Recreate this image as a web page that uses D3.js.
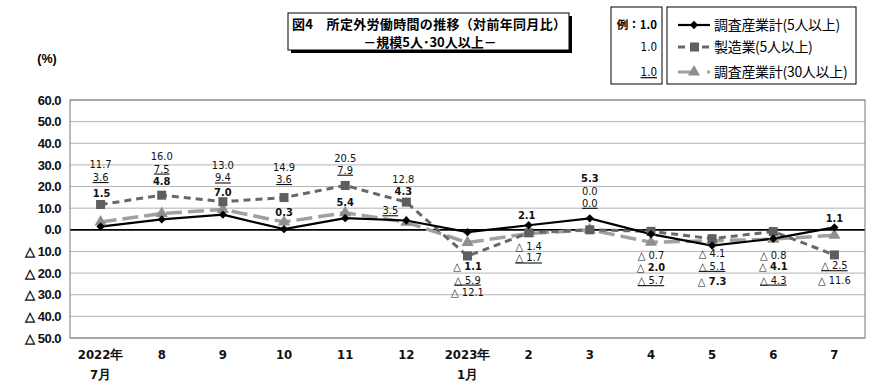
<!DOCTYPE html>
<html><head><meta charset="utf-8">
<script src="https://cdn.jsdelivr.net/npm/d3@7"></script>
<style>
body{margin:0;background:#fff;}
svg{display:block;}
.cjk{font-family:"Noto Sans CJK JP","Noto Sans",sans-serif;}
.num{font-family:"Liberation Sans Narrow","DejaVu Sans Condensed","Liberation Sans",sans-serif;}
</style>
</head><body>
<svg id="c" width="890" height="388"></svg>
<script>
// ---- data ----
const categories = ["2022年|7月","8","9","10","11","12","2023年|1月","2","3","4","5","6","7"];
const totalAll5 = [1.5, 4.8, 7.0, 0.3, 5.4, 4.3, -1.1, 2.1, 5.3, -2.0, -7.3, -4.1, 1.1];
const manuf5    = [11.7, 16.0, 13.0, 14.9, 20.5, 12.8, -12.1, -1.4, 0.0, -0.7, -4.1, -0.8, -11.6];
const totalAll30= [3.6, 7.5, 9.4, 3.6, 7.9, 3.5, -5.9, -1.7, 0.0, -5.7, -5.1, -4.3, -2.5];
const yTicks = [60,50,40,30,20,10,0,-10,-20,-30,-40,-50];
const seriesNames = ["調査産業計(5人以上)","製造業(5人以上)","調査産業計(30人以上)"];

// label offsets (layout only): [dx, dy] relative to point
const offTotal = [[1,-34],[0,-38],[0,-23],[0,-17],[0,-16],[-3,-29.5],[0,34],[-2,-10],[0,-40],[0,33],[0,35],[0,27.5],[0,-9]];
const offManuf = [[0,-40],[0,-39],[0,-37],[0,-31],[0,-27],[-3,-23],[0,36],[0,13],[0,-39],[0,24],[0,14],[0,23],[0,25]];
const off30    = [[0,-45],[0,-45],[0,-32],[0,-43],[0,-43],[-16,-12],[0,37],[0,24],[0,-27],[0,38],[0,25],[0,40.5],[0,30]];

const svg = d3.select("#c");
const L=70, R=865, T=100, B=338;
const x = d3.scaleBand().domain(categories).range([L,R]);
const y = d3.scaleLinear().domain([-50,60]).range([B,T]);
const cx = c => x(c) + x.bandwidth()/2;
const fmt = v => v < 0 ? "△ " + Math.abs(v).toFixed(1) : v.toFixed(1);

// grid
svg.append("g").selectAll("line").data(yTicks).join("line")
  .attr("x1",L).attr("x2",R).attr("y1",d=>y(d)).attr("y2",d=>y(d))
  .attr("stroke",d=>d===0?"#000":"#b4b4b4").attr("stroke-width",d=>d===0?1.8:1);
svg.append("rect").attr("x",L).attr("y",T).attr("width",R-L).attr("height",B-T)
  .attr("fill","none").attr("stroke","#777").attr("stroke-width",1);

// y tick labels
svg.append("g").selectAll("text").data(yTicks).join("text")
  .attr("x",61).attr("y",d=>y(d)).attr("dy","0.36em").attr("text-anchor","end")
  .attr("font-family","Liberation Sans, Arial, sans-serif").attr("font-weight","bold")
  .attr("font-size",13).attr("letter-spacing",-0.5).attr("fill","#111")
  .text(d=> d<0 ? "△ "+Math.abs(d).toFixed(1) : d.toFixed(1));
svg.append("text").attr("x",47).attr("y",58).attr("dy","0.36em").attr("text-anchor","middle")
  .attr("font-family","Liberation Sans, Arial, sans-serif").attr("font-weight","bold").attr("font-size",12.5)
  .text("(%)");

// x labels
const xl = svg.append("g").selectAll("text").data(categories).join("text")
  .attr("class","num").attr("text-anchor","middle").attr("font-size",13).attr("font-weight","bold")
  .attr("fill","#111");
xl.each(function(d){
  const parts = d.split("|");
  const t = d3.select(this);
  parts.forEach((p,i)=>{
    t.append("tspan").attr("x",cx(d)).attr("y",i===0?359:379).text(p);
  });
});

// lines
const line = d3.line().x((d,i)=>cx(categories[i])).y(d=>y(d));
svg.append("path").datum(totalAll30).attr("d",line).attr("fill","none")
  .attr("stroke","#a0a0a0").attr("stroke-width",3.5).attr("stroke-dasharray","16,6");
svg.append("path").datum(manuf5).attr("d",line).attr("fill","none")
  .attr("stroke","#676767").attr("stroke-width",3).attr("stroke-dasharray","7,5");
svg.append("path").datum(totalAll5).attr("d",line).attr("fill","none")
  .attr("stroke","#000").attr("stroke-width",2.2);

// markers
svg.append("g").selectAll("path").data(totalAll30).join("path")
  .attr("d",d3.symbol(d3.symbolTriangle,64))
  .attr("transform",(d,i)=>`translate(${cx(categories[i])},${y(d)})`).attr("fill","#8f8f8f");
svg.append("g").selectAll("rect").data(manuf5).join("rect")
  .attr("x",(d,i)=>cx(categories[i])-4.5).attr("y",d=>y(d)-4.5).attr("width",9).attr("height",9)
  .attr("fill","#5e5e5e");
svg.append("g").selectAll("path").data(totalAll5).join("path")
  .attr("d",d3.symbol(d3.symbolDiamond2,44))
  .attr("transform",(d,i)=>`translate(${cx(categories[i])},${y(d)})`).attr("fill","#000");

// data labels
function labels(data, offs, weight, underline){
  svg.append("g").selectAll("text").data(data).join("text")
    .attr("class","num").attr("text-anchor","middle").attr("font-size",11)
    .attr("font-weight",weight).attr("fill","#111")
    .style("text-decoration",underline?"underline":"none")
    .attr("x",(d,i)=>cx(categories[i])+offs[i][0])
    .attr("y",(d,i)=>y(d)+offs[i][1]).attr("dy","0.36em")
    .text(d=>fmt(d));
}
labels(manuf5, offManuf, "normal", false);
labels(totalAll30, off30, "normal", true);
labels(totalAll5, offTotal, "bold", false);

// title box
const tb = svg.append("g");
tb.append("rect").attr("x",291).attr("y",16).attr("width",281).attr("height",37).attr("fill","#000");
tb.append("rect").attr("x",288).attr("y",13).attr("width",281).attr("height",37).attr("fill","#fff").attr("stroke","#000").attr("stroke-width",1);
tb.append("text").attr("class","cjk").attr("x",292).attr("y",24).attr("dy","0.36em")
  .attr("font-size",13).attr("font-weight","bold").attr("textLength",274).attr("lengthAdjust","spacing")
  .text("図4　所定外労働時間の推移（対前年同月比）");
tb.append("text").attr("class","cjk").attr("x",430).attr("y",42).attr("dy","0.36em").attr("text-anchor","middle")
  .attr("font-size",13).attr("font-weight","bold").text("－規模5人･30人以上－");

// legend
const lg = svg.append("g");
lg.append("rect").attr("x",611).attr("y",7).attr("width",51).attr("height",77).attr("fill","#fff").attr("stroke","#000");
lg.append("rect").attr("x",667).attr("y",7).attr("width",189).attr("height",77).attr("fill","#fff").attr("stroke","#000");
const rowsY = [25,47,72];
lg.append("text").attr("class","cjk").attr("x",657).attr("y",rowsY[0]).attr("dy","0.36em").attr("text-anchor","end")
  .attr("font-size",11.5).attr("font-weight","bold").text("例：1.0");
lg.append("text").attr("class","num").attr("x",657).attr("y",rowsY[1]).attr("dy","0.36em").attr("text-anchor","end")
  .attr("font-size",11.5).text("1.0");
lg.append("text").attr("class","num").attr("x",657).attr("y",rowsY[2]).attr("dy","0.36em").attr("text-anchor","end")
  .attr("font-size",11.5).style("text-decoration","underline").text("1.0");
// samples
lg.append("line").attr("x1",678).attr("x2",710).attr("y1",rowsY[0]).attr("y2",rowsY[0]).attr("stroke","#000").attr("stroke-width",2.2);
lg.append("path").attr("d",d3.symbol(d3.symbolDiamond2,44)).attr("transform",`translate(694,${rowsY[0]})`);
lg.append("line").attr("x1",678).attr("x2",710).attr("y1",rowsY[1]).attr("y2",rowsY[1]).attr("stroke","#676767").attr("stroke-width",3).attr("stroke-dasharray","7,5");
lg.append("rect").attr("x",690).attr("y",rowsY[1]-4.5).attr("width",9).attr("height",9).attr("fill","#5e5e5e");
lg.append("line").attr("x1",678).attr("x2",712).attr("y1",rowsY[2]).attr("y2",rowsY[2]).attr("stroke","#a0a0a0").attr("stroke-width",3).attr("stroke-dasharray","16,13,3,2");
lg.append("path").attr("d",d3.symbol(d3.symbolTriangle,64)).attr("transform",`translate(694,${rowsY[2]})`).attr("fill","#8f8f8f");
lg.selectAll("text.lt").data(seriesNames).join("text").attr("class","cjk lt")
  .attr("x",714).attr("y",(d,i)=>rowsY[i]).attr("dy","0.36em").attr("font-size",14)
  .attr("letter-spacing",-0.3).text(d=>d);
</script>
</body></html>
